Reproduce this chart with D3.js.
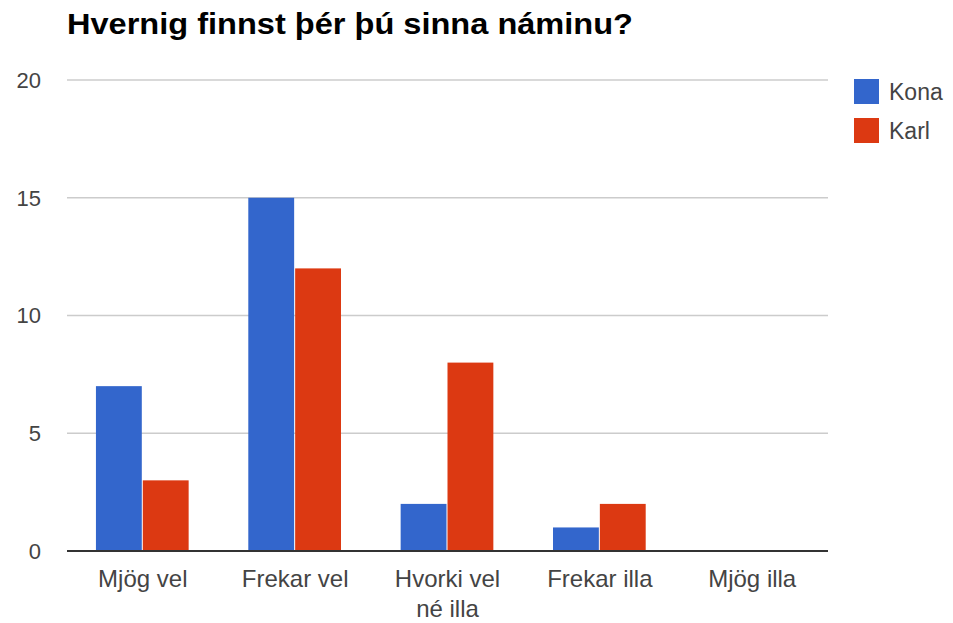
<!DOCTYPE html>
<html>
<head>
<meta charset="utf-8">
<script src="https://cdn.jsdelivr.net/npm/d3@7"></script>
<style>
  body { margin: 0; background: #fff; }
  text { font-family: "Liberation Sans", Arial, sans-serif; }
</style>
</head>
<body>
<svg id="chart" width="953" height="623"></svg>
<script>
// data
var categories = ["Mjög vel", "Frekar vel", "Hvorki vel|né illa", "Frekar illa", "Mjög illa"];
var series = ["Kona", "Karl"];
var kona = [7, 15, 2, 1, 0];
var karl = [3, 12, 8, 2, 0];
var yTicks = [0, 5, 10, 15, 20];
var colors = ["#3366cc", "#dc3912"];

var svg = d3.select("#chart");
var plotLeft = 67, plotRight = 828, plotTop = 80, plotBottom = 551;

var rows = categories.map(function(c, i) {
  return { cat: c, vals: [kona[i], karl[i]] };
});

var x0 = d3.scaleBand().domain(categories).range([plotLeft, plotRight])
  .paddingInner(0.385).paddingOuter(0.19);
var x1 = d3.scaleBand().domain(series).range([0, x0.bandwidth()]);
var y = d3.scaleLinear().domain([0, 20]).range([plotBottom, plotTop]);

// title
svg.append("text")
  .attr("x", 67).attr("y", 34)
  .attr("font-size", 29).attr("font-weight", "bold")
  .attr("fill", "#000")
  .attr("textLength", 566)
  .attr("lengthAdjust", "spacingAndGlyphs")
  .text("Hvernig finnst þér þú sinna náminu?");

// gridlines
svg.selectAll(".grid")
  .data(yTicks.filter(function(d) { return d > 0; }))
  .enter().append("line")
  .attr("x1", plotLeft).attr("x2", plotRight)
  .attr("y1", function(d) { return y(d); })
  .attr("y2", function(d) { return y(d); })
  .attr("stroke", "#cccccc").attr("stroke-width", 1.5);

// y labels
svg.selectAll(".ylab")
  .data(yTicks)
  .enter().append("text")
  .attr("x", 41)
  .attr("y", function(d) { return y(d); })
  .attr("dy", "0.36em")
  .attr("text-anchor", "end")
  .attr("font-size", 22)
  .attr("fill", "#444")
  .text(function(d) { return d; });

// bars
var groups = svg.selectAll(".grp")
  .data(rows)
  .enter().append("g")
  .attr("transform", function(d) { return "translate(" + x0(d.cat) + ",0)"; });

groups.selectAll("rect")
  .data(function(d) { return d.vals.map(function(v, i) { return { s: series[i], v: v, i: i }; }); })
  .enter().append("rect")
  .attr("x", function(d) { return x1(d.s); })
  .attr("y", function(d) { return y(d.v); })
  .attr("width", x1.bandwidth() - 1)
  .attr("height", function(d) { return plotBottom - y(d.v); })
  .attr("fill", function(d) { return colors[d.i]; });

// baseline
svg.append("line")
  .attr("x1", plotLeft).attr("x2", plotRight)
  .attr("y1", plotBottom).attr("y2", plotBottom)
  .attr("stroke", "#333").attr("stroke-width", 2);

// category labels
var labels = svg.selectAll(".xlab")
  .data(categories)
  .enter().append("text")
  .attr("x", function(d) { return x0(d) + x0.bandwidth() / 2; })
  .attr("y", 587)
  .attr("text-anchor", "middle")
  .attr("font-size", 24)
  .attr("fill", "#444");

labels.each(function(d) {
  var parts = d.split("|");
  var t = d3.select(this);
  parts.forEach(function(p, i) {
    t.append("tspan")
      .attr("x", t.attr("x"))
      .attr("dy", i === 0 ? 0 : 30)
      .text(p);
  });
});

// legend
var legend = svg.selectAll(".leg")
  .data(series)
  .enter().append("g")
  .attr("transform", function(d, i) { return "translate(854," + (79 + i * 39) + ")"; });

legend.append("rect")
  .attr("width", 25).attr("height", 25)
  .attr("fill", function(d, i) { return colors[i]; });

legend.append("text")
  .attr("x", 35).attr("y", 13)
  .attr("dy", "0.36em")
  .attr("font-size", 23)
  .attr("fill", "#444")
  .text(function(d) { return d; });
</script>
</body>
</html>
